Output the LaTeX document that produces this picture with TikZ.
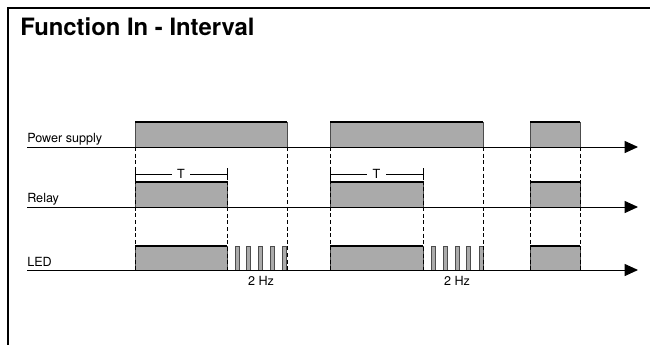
\documentclass[tikz,border=0pt]{standalone}
\usepackage{fontspec}
\setmainfont{TeX Gyre Heros}
\usetikzlibrary{arrows.meta}
\definecolor{boxfill}{HTML}{AAAAAA}

\begin{document}
\begin{tikzpicture}[x=0.0265cm,y=-0.0265cm,>={Triangle[length=10pt,width=9pt]},
        axis/.style={->,line width=0.75pt},
        guide/.style={densely dashed,line width=0.5pt},
        lbl/.style={anchor=base west,inner sep=0,font=\fontsize{9.5}{11}\selectfont},
        hz/.style={anchor=base,inner sep=0,font=\fontsize{9.5}{11}\selectfont}]
        \useasboundingbox (0,0) rectangle (650,345);
        % frame and title
        \draw[line width=1.2pt] (8,345) -- (8,8) -- (650,8);
        \node[anchor=base west,inner sep=0,font=\bfseries\fontsize{18}{20}\selectfont] (title) at (20,35) {Function In - Interval};
        % levels
        \foreach \a/\b in {135/287,330/483,530/580} {
          \fill[boxfill] (\a,122) rectangle (\b,147);
          \draw[gray!60!black,line width=0.4pt] (\a,147) -- (\a,122) (\b,122) -- (\b,147);
          \draw[line width=0.9pt] (\a,122) -- (\b,122);
        }
        \foreach \a/\b in {135/227,330/423,530/580} {
          \fill[boxfill] (\a,182) rectangle (\b,207);
          \fill[boxfill] (\a,246) rectangle (\b,270);
          \draw[gray!60!black,line width=0.4pt] (\a,207) -- (\a,182) (\b,182) -- (\b,207)
            (\a,270) -- (\a,246) (\b,246) -- (\b,270);
          \draw[line width=0.9pt] (\a,182) -- (\b,182) (\a,246) -- (\b,246);
        }
        \foreach \p in {237,248,260,272,284,433,445,457,468,481}
          \filldraw[fill=boxfill,draw=gray!60!black,line width=0.4pt] (\p-2,246) rectangle (\p+2,270);
        % guides
        \foreach \x in {135,287,330,483,530,580}
          \draw[guide] (\x,147) -- (\x,270);
        \foreach \x in {227,423}
          \draw[guide] (\x,174) -- (\x,270);
        % T brackets
        \foreach \a/\b/\n in {135/227/1,330/423/2} {
          \draw[line width=0.6pt] (\a,168) -- (\a,180) (\b,168) -- (\b,180)
            (\a,174) -- node[fill=white,inner xsep=4pt,inner ysep=1pt,font=\fontsize{9.5}{11}\selectfont] (t\n) {T} (\b,174);
        }
        % axes
        \node[lbl] (ps) at (27,142) {Power supply};
        \node[lbl] (rl) at (27,202) {Relay};
        \node[lbl] (led) at (27,266) {LED};
        \coordinate (ps-e) at (638,147);
        \coordinate (rl-e) at (638,207);
        \coordinate (led-e) at (638,270);
        \draw[axis] (ps.base west |- ps-e) -- (ps-e);
        \draw[axis] (rl.base west |- rl-e) -- (rl-e);
        \draw[axis] (led.base west |- led-e) -- (led-e);
        \node[hz] (hz1) at (261,285) {2 Hz};
        \node[hz] (hz2) at (457,285) {2 Hz};
      \end{tikzpicture}
\end{document}
